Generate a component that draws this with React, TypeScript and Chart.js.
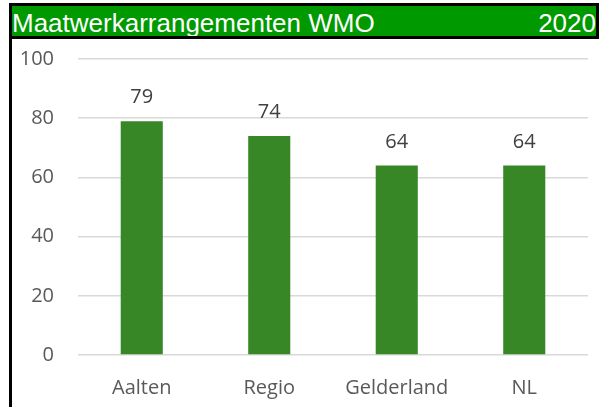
import React, { useEffect, useRef } from "react";
import { Chart, registerables } from "chart.js";

Chart.register(...registerables);

const categories = ["Aalten", "Regio", "Gelderland", "NL"];
const values = [79, 74, 64, 64];
const yTicks = [0, 20, 40, 60, 80, 100];
const titleText = "Maatwerkarrangementen WMO";
const yearText = "2020";

const BAR_COLOR = "#388726";
const HEADER_GREEN = "#009900";
const FONT = "20px 'Open Sans'";

const valueLabels = {
  id: "valueLabels",
  afterDatasetsDraw(chart: any) {
    const ctx = chart.ctx;
    const meta = chart.getDatasetMeta(0);
    ctx.save();
    ctx.font = FONT;
    ctx.fillStyle = "#404040";
    ctx.textAlign = "center";
    ctx.textBaseline = "alphabetic";
    meta.data.forEach((bar: any, i: number) => {
      ctx.fillText(String(values[i]), bar.x, bar.y - 18);
    });
    ctx.restore();
  },
};

const yLabels = {
  id: "yLabels",
  afterDraw(chart: any) {
    const ctx = chart.ctx;
    const scale = chart.scales.y;
    ctx.save();
    ctx.font = FONT;
    ctx.fillStyle = "#595959";
    ctx.textAlign = "right";
    ctx.textBaseline = "middle";
    yTicks.forEach((v) => {
      ctx.fillText(String(v), chart.chartArea.left - 24, scale.getPixelForValue(v));
    });
    ctx.restore();
  },
};

export default function App() {
  const ref = useRef<HTMLCanvasElement | null>(null);

  useEffect(() => {
    if (!ref.current) return;
    const chart = new Chart(ref.current, {
      type: "bar",
      data: {
        labels: categories,
        datasets: [
          {
            data: values,
            backgroundColor: BAR_COLOR,
            borderWidth: 0,
            categoryPercentage: 1,
            barPercentage: 0.33,
          },
        ],
      },
      options: {
        responsive: false,
        animation: false,
        devicePixelRatio: 1,
        layout: { padding: { top: 20, right: 11, left: 0, bottom: 0 } },
        plugins: {
          legend: { display: false },
          title: { display: false },
          tooltip: { enabled: false },
        },
        scales: {
          x: {
            grid: { display: false, drawTicks: false },
            border: { display: false },
            ticks: {
              color: "#595959",
              font: { family: "'Open Sans'", size: 20 },
              padding: 21,
              maxRotation: 0,
            },
            afterFit: (scale: any) => {
              scale.height = 52;
            },
          },
          y: {
            min: 0,
            max: 100,
            afterBuildTicks: (scale: any) => {
              scale.ticks = yTicks.map((v) => ({ value: v }));
            },
            grid: { color: "#d9d9d9", lineWidth: 1.5, drawTicks: false },
            border: { display: false },
            ticks: { display: false },
            afterFit: (scale: any) => {
              scale.width = 66;
            },
          },
        },
      },
      plugins: [valueLabels, yLabels],
    });
    return () => chart.destroy();
  }, []);

  return (
    <div
      style={{
        position: "absolute",
        left: 9,
        top: 3,
        width: 590,
        height: 404,
        boxSizing: "border-box",
        borderTop: "3px solid #000",
        borderLeft: "3px solid #000",
        background: "#fff",
      }}
    >
      <div
        style={{
          position: "absolute",
          left: 0,
          top: 0,
          width: 587,
          height: 33,
          boxSizing: "border-box",
          background: HEADER_GREEN,
          borderRight: "3px solid #000",
          borderBottom: "3px solid #000",
          color: "#fff",
          fontFamily: "'Liberation Sans', Arial, sans-serif",
          fontSize: 26,
          lineHeight: "30px",
          display: "flex",
          justifyContent: "space-between",
          whiteSpace: "nowrap",
          overflow: "hidden",
        }}
      >
        <span style={{ position: "relative", top: 2 }}>{titleText}</span>
        <span style={{ position: "relative", top: 2 }}>{yearText}</span>
      </div>
      <canvas
        ref={ref}
        width={587}
        height={368}
        style={{ position: "absolute", left: 0, top: 33, width: 587, height: 368 }}
      />
    </div>
  );
}
